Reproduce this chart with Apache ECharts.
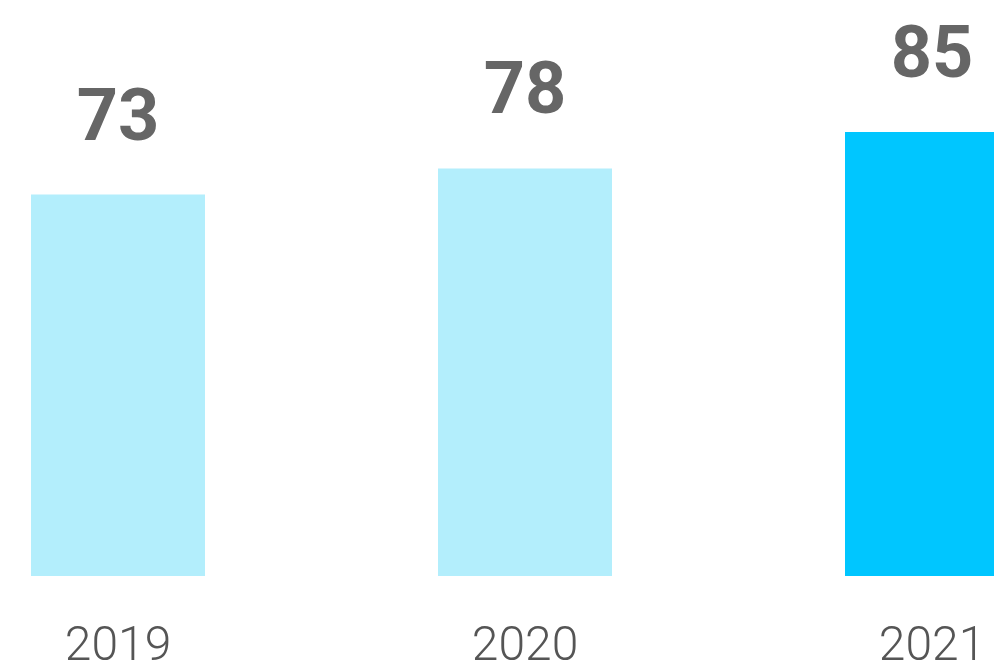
<!DOCTYPE html>
<html>
<head>
<meta charset="utf-8">
<script src="https://cdn.jsdelivr.net/npm/echarts@6/dist/echarts.min.js"></script>
<style>
html,body{margin:0;padding:0;background:#fff;}
#chart{width:994px;height:672px;}
</style>
</head>
<body>
<div id="chart"></div>
<script>
const categories = ['2019', '2020', '2021'];
const values = [73, 78, 85];
const barColors = ['#B3EEFC', '#B3EEFC', '#00C6FF'];

const chart = echarts.init(document.getElementById('chart'));
chart.setOption({
  animation: false,
  grid: { left: 118, right: 62, top: 53.5, bottom: 89.5, containLabel: false },
  xAxis: {
    type: 'category',
    data: categories,
    boundaryGap: false,
    axisLine: { show: false },
    axisTick: { show: false },
    axisLabel: {
      margin: 48,
      fontSize: 48,
      fontFamily: 'Roboto',
      fontWeight: 300,
      color: '#555555'
    }
  },
  yAxis: {
    type: 'value',
    min: 0,
    max: 100,
    show: false
  },
  series: [{
    type: 'bar',
    barWidth: 174,
    data: values.map((v, i) => ({ value: v, itemStyle: { color: barColors[i] } })),
    label: {
      show: true,
      position: 'top',
      distance: 37,
      fontSize: 72,
      fontWeight: 'bold',
      fontFamily: 'Roboto',
      color: '#666666'
    }
  }]
});
</script>
</body>
</html>
